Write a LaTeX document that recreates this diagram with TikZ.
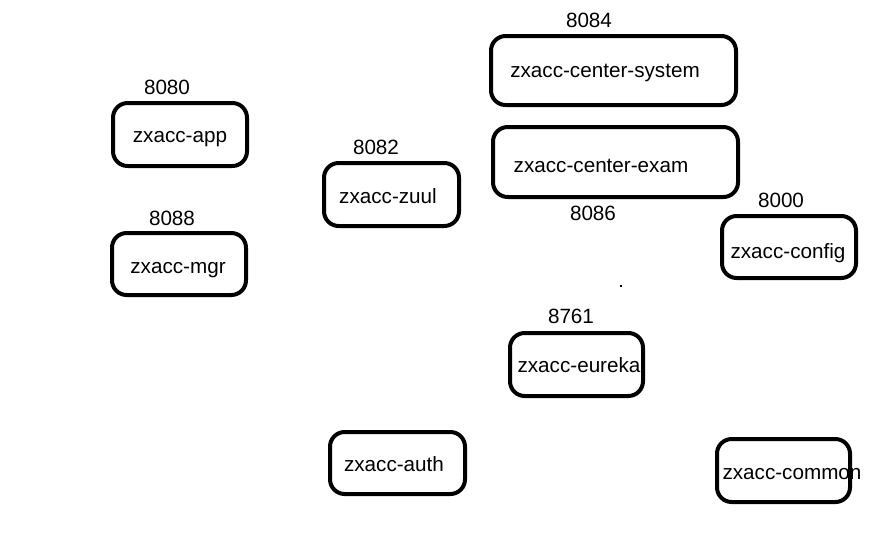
\documentclass[tikz,border=0pt]{standalone}
\usepackage{fontspec}
\setmainfont{Liberation Sans}
\usepackage{tikz}

\begin{document}
\begin{tikzpicture}[x=0.75pt,y=0.75pt,yscale=-1,xscale=1,
  svcbox/.style={line width=3pt, rounded corners=11pt},
  svclabel/.style={anchor=base, inner sep=0.75pt, font=\fontsize{15.5}{18}\selectfont}]
\useasboundingbox (0,0) rectangle (886,547);

%Shape: Rounded Rect [app]
\draw [svcbox] (113,103) rectangle (247,166) ;
%Shape: Rounded Rect [mgr]
\draw [svcbox] (112,233) rectangle (246,295) ;
%Shape: Rounded Rect [zuul]
\draw [svcbox] (324,163) rectangle (459,226) ;
%Shape: Rounded Rect [center-system]
\draw [svcbox] (491,36) rectangle (736,105) ;
%Shape: Rounded Rect [center-exam]
\draw [svcbox] (493,127) rectangle (738,197) ;
%Shape: Rounded Rect [config]
\draw [svcbox] (722,216) rectangle (856,278) ;
%Shape: Rounded Rect [eureka]
\draw [svcbox] (510,333) rectangle (643,396) ;
%Shape: Rounded Rect [auth]
\draw [svcbox] (330,432) rectangle (465,494) ;
%Shape: Rounded Rect [common]
\draw [svcbox] (717,439) rectangle (850,502) ;
%Shape: stray dot
\fill (620,285) rectangle (622,287) ;

% Text Node
\node (app) [svclabel] at (180,142) {zxacc-app};
% Text Node
\node (p8080) [svclabel] at (167,94) {8080};
% Text Node
\node (mgr) [svclabel] at (178,273) {zxacc-mgr};
% Text Node
\node (p8088) [svclabel] at (172,225) {8088};
% Text Node
\node (zuul) [svclabel] at (388,203) {zxacc-zuul};
% Text Node
\node (p8082) [svclabel] at (376,154) {8082};
% Text Node
\node (system) [svclabel] at (605,77) {zxacc-center-system};
% Text Node
\node (p8084) [svclabel] at (589,27) {8084};
% Text Node
\node (exam) [svclabel] at (601,172) {zxacc-center-exam};
% Text Node
\node (p8086) [svclabel] at (593,220) {8086};
% Text Node
\node (config) [svclabel] at (788,258) {zxacc-config};
% Text Node
\node (p8000) [svclabel] at (781,207) {8000};
% Text Node
\node (eureka) [svclabel] at (579,372) {zxacc-eureka};
% Text Node
\node (p8761) [svclabel] at (571,323) {8761};
% Text Node
\node (auth) [svclabel] at (394,471) {zxacc-auth};
% Text Node
\node (common) [svclabel] at (792,479) {zxacc-common};
\end{tikzpicture}
\end{document}
